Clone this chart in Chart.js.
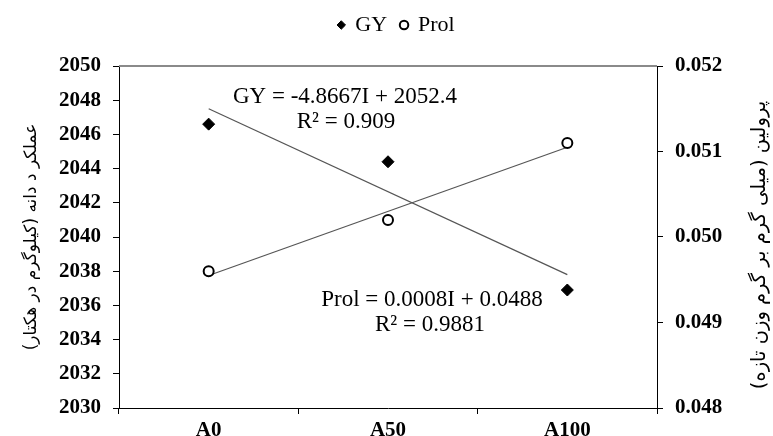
<!DOCTYPE html>
<html>
<head>
<meta charset="utf-8">
<script src="https://cdn.jsdelivr.net/npm/chart.js@4.4.1/dist/chart.umd.min.js"></script>
<style>
    html, body { margin: 0; padding: 0; background: #fff; }
    #wrap { width: 773px; height: 436px; }
</style>
</head>
<body>
<div id="wrap"><canvas id="chart"></canvas></div>
<script>
const categories = ['A0', 'A50', 'A100'];
const gyValues = [2046.6, 2044.4, 2036.9];
const prolValues = [0.0496, 0.0502, 0.0511];
// linear trendlines as drawn in the picture (ends only)
const gyTrend = [2047.5, null, 2037.8];
const prolTrend = [0.04955, null, 0.05105];
const gyRange = [2030, 2050, 2];
const prolRange = [0.048, 0.052, 0.001];
const trendLabels = ['GY = -4.8667I + 2052.4', 'R\u00b2 = 0.909', 'Prol = 0.0008I + 0.0488', 'R\u00b2 = 0.9881'];
const leftTitle = 'عملکر د دانه (کیلوگرم در هکتار)';
const rightTitle = 'پرولین (میلی گرم بر گرم وزن تازه)';

const rtl = s => '\u202B' + s + '\u202C';
const serif = '"Liberation Serif", "Times New Roman", serif';

// top frame line, equations and the right axis title
const extras = {
    id: 'extras',
    afterDraw(chart) {
        const { ctx, chartArea: a } = chart;
        ctx.save();
        ctx.strokeStyle = '#8a8a8a';
        ctx.lineWidth = 2;
        ctx.beginPath();
        ctx.moveTo(a.left, a.top);
        ctx.lineTo(a.right, a.top);
        ctx.stroke();

        ctx.fillStyle = '#000';
        ctx.font = '23px ' + serif;
        ctx.textAlign = 'center';
        ctx.textBaseline = 'middle';
        ctx.fillText(trendLabels[0], a.left + 226, 97);
        ctx.fillText(trendLabels[1], a.left + 227, 122);
        ctx.fillText(trendLabels[2], a.left + 313, 300);
        ctx.fillText(trendLabels[3], a.left + 311, 325);

        ctx.font = '19.5px "DejaVu Sans"';
        ctx.translate(760, (a.top + a.bottom) / 2 + 8);
        ctx.rotate(-Math.PI / 2);
        ctx.fillText(rtl(rightTitle), 0, 0);
        ctx.restore();
    }
};

new Chart(document.getElementById('chart'), {
    type: 'line',
    data: {
        labels: categories,
        datasets: [{
            label: 'GY',
            data: gyValues,
            yAxisID: 'y',
            showLine: false,
            pointStyle: 'rectRot',
            pointRadius: 6,
            backgroundColor: '#000',
            borderColor: '#000',
            borderWidth: 1
        }, {
            label: 'Prol',
            data: prolValues,
            yAxisID: 'y1',
            showLine: false,
            pointStyle: 'circle',
            pointRadius: 5,
            backgroundColor: '#fff',
            borderColor: '#000',
            borderWidth: 2
        }, {
            label: 'GY trend',
            data: gyTrend,
            yAxisID: 'y',
            spanGaps: true,
            borderColor: '#555',
            borderWidth: 1.2,
            pointRadius: 0
        }, {
            label: 'Prol trend',
            data: prolTrend,
            yAxisID: 'y1',
            spanGaps: true,
            borderColor: '#555',
            borderWidth: 1.2,
            pointRadius: 0
        }]
    },
    options: {
        responsive: true,
        maintainAspectRatio: false,
        animation: false,
        layout: { padding: { top: 0, left: 20 } },
        plugins: {
            legend: {
                position: 'top',
                weight: 3000,
                labels: {
                    usePointStyle: true,
                    boxWidth: 6,
                    boxHeight: 6,
                    padding: 14,
                    color: '#000',
                    font: { family: serif, size: 22 },
                    filter: item => item.datasetIndex < 2
                }
            },
            // empty title, only used as a spacer under the legend
            title: { display: true, text: '', padding: 0, font: { size: 10, lineHeight: 2 } },
            tooltip: { enabled: false }
        },
        scales: {
            x: {
                offset: true,
                afterFit: s => { s.height = 28; },
                border: { color: '#000', width: 1 },
                grid: { offset: true, drawOnChartArea: false, color: '#000', tickLength: 6 },
                ticks: { color: '#000', padding: 4, font: { family: serif, size: 21, weight: 'bold' } }
            },
            y: {
                position: 'left',
                min: gyRange[0],
                max: gyRange[1],
                afterFit: s => { s.width = 99; },
                border: { color: '#000', width: 1 },
                grid: { drawOnChartArea: false, color: '#000', tickLength: 6 },
                ticks: {
                    stepSize: gyRange[2],
                    color: '#000',
                    padding: 12,
                    font: { family: serif, size: 21, weight: 'bold' },
                    callback: v => String(v)
                },
                title: {
                    display: true,
                    text: rtl(leftTitle),
                    color: '#000',
                    padding: { top: 1, bottom: 0 },
                    font: { family: 'DejaVu Sans', size: 17 }
                }
            },
            y1: {
                position: 'right',
                min: prolRange[0],
                max: prolRange[1],
                afterFit: s => { s.width = 116; },
                border: { color: '#000', width: 1 },
                grid: { drawOnChartArea: false, color: '#000', tickLength: 6 },
                ticks: {
                    stepSize: prolRange[2],
                    color: '#000',
                    padding: 12,
                    font: { family: serif, size: 21, weight: 'bold' },
                    callback: v => v.toFixed(3)
                }
            }
        }
    },
    plugins: [extras]
});
</script>
</body>
</html>
